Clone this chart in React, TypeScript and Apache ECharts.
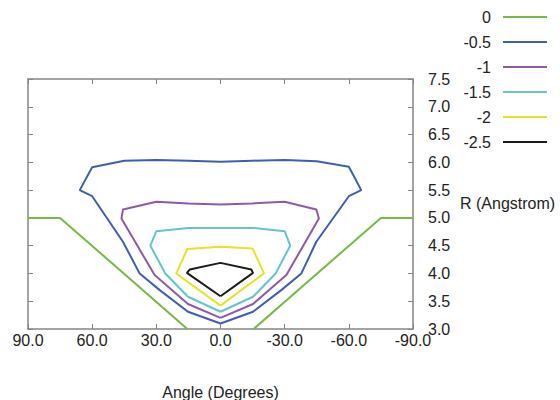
import React, { useEffect, useRef } from "react";
import * as echarts from "echarts";

// Contour "0" (two separate branches)
const c0LeftAngle = [90, 75, 15.5];
const c0LeftR = [5.0, 5.0, 3.0];
const c0RightAngle = [-15.5, -75, -90];
const c0RightR = [3.0, 5.0, 5.0];

// Contour "-0.5"
const c05Angle = [0, 15.2, 28.4, 37.8, 45.6, 60, 65.8, 60, 45, 30, 15, 0, -15, -30, -45, -60, -65.8, -60, -44.8, -37.8, -28.4, -15.2, 0];
const c05R = [3.1, 3.31, 3.7, 4.0, 4.57, 5.39, 5.5, 5.91, 6.03, 6.04, 6.03, 6.01, 6.03, 6.04, 6.02, 5.92, 5.5, 5.39, 4.57, 4.0, 3.7, 3.31, 3.1];

// Contour "-1"
const c1Angle = [0, 15.2, 30.8, 46.3, 45.6, 30, 15, 0, -15, -30, -44.8, -46, -30.8, -15.2, 0];
const c1R = [3.2, 3.45, 3.97, 4.99, 5.15, 5.29, 5.26, 5.24, 5.26, 5.29, 5.15, 4.99, 3.97, 3.45, 3.2];

// Contour "-1.5"
const c15Angle = [0, 15.2, 25.8, 32.8, 30, 15, 0, -15, -30, -32.6, -25.8, -15.2, 0];
const c15R = [3.31, 3.58, 4.0, 4.5, 4.76, 4.82, 4.82, 4.82, 4.76, 4.5, 4.0, 3.58, 3.31];

// Contour "-2"
const c2Angle = [0, 20.7, 15.5, 0, -15, -20.3, 0];
const c2R = [3.42, 4.0, 4.44, 4.48, 4.45, 4.0, 3.42];

// Contour "-2.5"
const c25Angle = [0, 15.7, 14.4, 0, -14.4, -15.2, 0];
const c25R = [3.59, 4.01, 4.07, 4.19, 4.07, 4.01, 3.59];

const levelNames = ["0", "-0.5", "-1", "-1.5", "-2", "-2.5"];
const levelColors = ["#76b947", "#3f5fae", "#8d5aa6", "#64c3cf", "#e6e324", "#1a1a1a"];

const xAxisTitle = "Angle (Degrees)";
const yAxisTitle = "R (Angstrom)";

const FONT = "'Liberation Sans', Arial, Helvetica, sans-serif";
const AXIS_COLOR = "#858585";
const TEXT_COLOR = "#222";

function pairs(xs: number[], ys: number[]) {
  return xs.map((x, i) => [x, ys[i]]);
}

function lineSeries(name: string, color: string, data: number[][]) {
  return {
    type: "line",
    name,
    data,
    xAxisIndex: 0,
    yAxisIndex: 0,
    symbol: "none",
    showSymbol: false,
    clip: true,
    lineStyle: { color, width: 2 },
    itemStyle: { color },
    emphasis: { disabled: true },
  };
}

export default function App() {
  const ref = useRef<HTMLDivElement>(null);

  useEffect(() => {
    if (!ref.current) return;
    const chart = echarts.init(ref.current, null, { renderer: "svg" });

    const xBase = {
      type: "value",
      min: -90,
      max: 90,
      interval: 30,
      inverse: true,
      splitLine: { show: false },
      axisLine: { show: true, onZero: false, lineStyle: { color: AXIS_COLOR, width: 1.5 } },
      axisTick: { show: true, inside: true, length: 5, lineStyle: { color: AXIS_COLOR, width: 1 } },
    };
    const yBase = {
      type: "value",
      min: 3,
      max: 7.5,
      interval: 0.5,
      splitLine: { show: false },
      axisLine: { show: true, onZero: false, lineStyle: { color: AXIS_COLOR, width: 1.5 } },
      axisTick: { show: true, inside: true, length: 5, lineStyle: { color: AXIS_COLOR, width: 1 } },
    };

    chart.setOption({
      animation: false,
      backgroundColor: "#ffffff",
      textStyle: { fontFamily: FONT },
      grid: {
        left: 28,
        right: 147,
        top: 79,
        bottom: 71,
        containLabel: false,
        outerBoundsMode: "none",
      },
      legend: {
        orient: "vertical",
        right: 13,
        top: 9,
        padding: 0,
        align: "right",
        icon: "rect",
        itemWidth: 44,
        itemHeight: 2,
        itemGap: 9,
        data: levelNames,
        textStyle: { fontSize: 16, color: TEXT_COLOR, fontFamily: FONT, padding: [0, 7, 0, 0] },
      },
      graphic: [
        {
          type: "text",
          left: 460,
          top: 195,
          silent: true,
          style: { text: yAxisTitle, fontSize: 16, fontFamily: FONT, fill: TEXT_COLOR },
        },
      ],
      xAxis: [
        {
          ...xBase,
          position: "bottom",
          axisLabel: {
            show: true,
            formatter: (v: number) => v.toFixed(1),
            color: TEXT_COLOR,
            fontSize: 16,
            fontFamily: FONT,
            margin: 3,
          },
          name: xAxisTitle,
          nameLocation: "middle",
          nameGap: 55,
          nameTextStyle: { fontSize: 16, color: TEXT_COLOR, fontFamily: FONT },
        },
        {
          ...xBase,
          position: "top",
          axisLabel: { show: false },
        },
      ],
      yAxis: [
        {
          ...yBase,
          position: "right",
          axisLabel: {
            show: true,
            formatter: (v: number) => v.toFixed(1),
            color: TEXT_COLOR,
            fontSize: 16,
            fontFamily: FONT,
            margin: 15,
          },
        },
        {
          ...yBase,
          position: "left",
          axisLabel: { show: false },
        },
      ],
      series: [
        lineSeries(levelNames[0], levelColors[0], pairs(c0LeftAngle, c0LeftR)),
        lineSeries(levelNames[0], levelColors[0], pairs(c0RightAngle, c0RightR)),
        lineSeries(levelNames[1], levelColors[1], pairs(c05Angle, c05R)),
        lineSeries(levelNames[2], levelColors[2], pairs(c1Angle, c1R)),
        lineSeries(levelNames[3], levelColors[3], pairs(c15Angle, c15R)),
        lineSeries(levelNames[4], levelColors[4], pairs(c2Angle, c2R)),
        lineSeries(levelNames[5], levelColors[5], pairs(c25Angle, c25R)),
      ],
    });

    return () => chart.dispose();
  }, []);

  return (
    <div
      ref={ref}
      style={{ position: "fixed", left: 0, top: 0, width: 560, height: 400, background: "#fff" }}
    />
  );
}
